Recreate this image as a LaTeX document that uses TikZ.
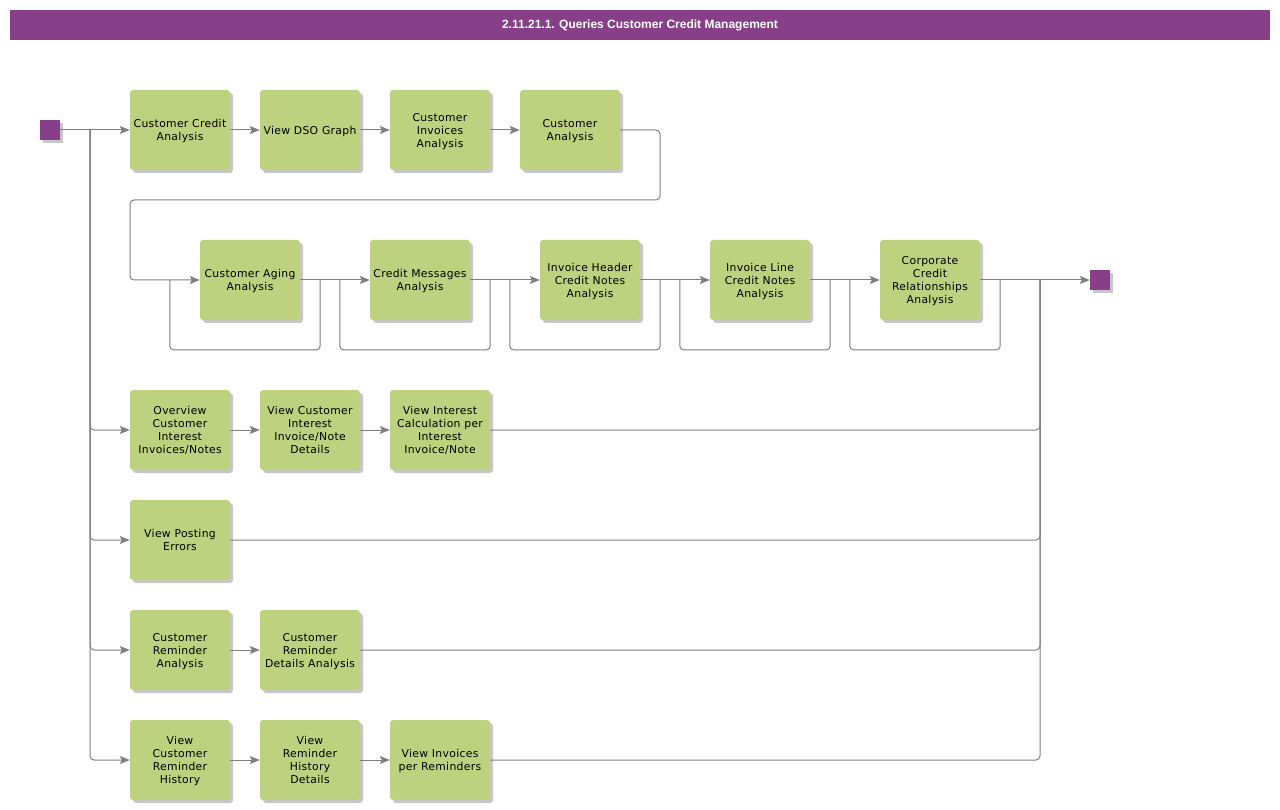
\documentclass[tikz,border=0pt]{standalone}
\usepackage{fontspec}
\setmainfont{DejaVu Sans}[LetterSpace=3]
\newfontfamily\headfont{Liberation Sans}
\usetikzlibrary{arrows.meta,shadows}
\definecolor{band}{HTML}{873F8A}
\definecolor{leaf}{HTML}{BDD27E}
\definecolor{wire}{HTML}{7F7F7F}
\tikzset{
  taskbox/.style={fill=leaf, rounded corners=3pt, minimum width=100pt, minimum height=80pt,
    inner sep=0pt, align=center, text depth=0pt, font=\fontsize{10.8}{13}\selectfont,
    drop shadow={shadow xshift=3pt, shadow yshift=-3pt, fill=black, opacity=0.22}},
  term/.style={fill=band, minimum size=20pt, inner sep=0pt,
    drop shadow={shadow xshift=3pt, shadow yshift=-3pt, fill=black, opacity=0.22}},
  flow/.style={draw=wire, line width=1pt, rounded corners=4pt, -{Stealth[length=10pt, width=8pt, inset=2pt]}},
  link/.style={draw=wire, line width=1pt, rounded corners=4pt},
}

\begin{document}
\begin{tikzpicture}[x=1pt, y=-1pt]
  \useasboundingbox (0,0) rectangle (1280,810);
  \node[fill=band, minimum width=1260pt, minimum height=30pt, inner sep=0pt,
    text=white, font=\headfont\bfseries\fontsize{12}{14}\selectfont] (bar) at (640,25)
    {2.11.21.1. Queries Customer Credit Management};

  % start and end
  \node[term] (start) at (50,130) {};
  \node[term] (stop) at (1100,280) {};
  \coordinate (split) at (90,130);
  \coordinate (merge) at (1040,280);
  \coordinate (wrapR) at (660,200);
  \coordinate (wrapL) at (130,200);

  % first row
  \node[taskbox] (cca) at (180,130) {Customer Credit\\Analysis};
  \node[taskbox] (dso) at (310,130) {View DSO Graph};
  \node[taskbox] (cia) at (440,130) {Customer\\Invoices\\Analysis};
  \node[taskbox] (cua) at (570,130) {Customer\\Analysis};

  % second row
  \node[taskbox] (aging) at (250,280) {Customer Aging\\Analysis};
  \node[taskbox] (crmsg) at (420,280) {Credit Messages\\Analysis};
  \node[taskbox] (ihdr) at (590,280) {Invoice Header\\Credit Notes\\Analysis};
  \node[taskbox] (iline) at (760,280) {Invoice Line\\Credit Notes\\Analysis};
  \node[taskbox] (corp) at (930,280) {Corporate\\Credit\\Relationships\\Analysis};

  % interest
  \node[taskbox] (ovw) at (180,430) {Overview\\Customer\\Interest\\Invoices/Notes};
  \node[taskbox] (vcid) at (310,430) {View Customer\\Interest\\Invoice/Note\\Details};
  \node[taskbox] (vicp) at (440,430) {View Interest\\Calculation per\\Interest\\Invoice/Note};

  % posting errors
  \node[taskbox] (vpe) at (180,540) {View Posting\\Errors};

  % reminders
  \node[taskbox] (cra) at (180,650) {Customer\\Reminder\\Analysis};
  \node[taskbox] (crda) at (310,650) {Customer\\Reminder\\Details Analysis};
  \node[taskbox] (vcrh) at (180,760) {View\\Customer\\Reminder\\History};
  \node[taskbox] (vrhd) at (310,760) {View\\Reminder\\History\\Details};
  \node[taskbox] (vipr) at (440,760) {View Invoices\\per Reminders};

  % connectors
  \draw[flow] (start) -- (cca);
  \draw[flow] (cca) -- (dso);
  \draw[flow] (dso) -- (cia);
  \draw[flow] (cia) -- (cua);
  \draw[flow] (cua.east) -| (wrapR) -- (wrapL) |- (aging.west);
  \draw[flow] (aging) -- (crmsg);
  \draw[flow] (crmsg) -- (ihdr);
  \draw[flow] (ihdr) -- (iline);
  \draw[flow] (iline) -- (corp);
  \draw[flow] (corp) -- (stop);

  \draw[link] ([xshift=-30pt]aging.west) |- ([xshift=20pt, yshift=-70pt]aging.east) -- ([xshift=20pt]aging.east);
  \draw[link] ([xshift=-30pt]crmsg.west) |- ([xshift=20pt, yshift=-70pt]crmsg.east) -- ([xshift=20pt]crmsg.east);
  \draw[link] ([xshift=-30pt]ihdr.west) |- ([xshift=20pt, yshift=-70pt]ihdr.east) -- ([xshift=20pt]ihdr.east);
  \draw[link] ([xshift=-30pt]iline.west) |- ([xshift=20pt, yshift=-70pt]iline.east) -- ([xshift=20pt]iline.east);
  \draw[link] ([xshift=-30pt]corp.west) |- ([xshift=20pt, yshift=-70pt]corp.east) -- ([xshift=20pt]corp.east);

  \draw[flow] (split) |- (ovw.west);
  \draw[flow] (ovw) -- (vcid);
  \draw[flow] (vcid) -- (vicp);
  \draw[link] (vicp.east) -| (merge);

  \draw[flow] (split) |- (vpe.west);
  \draw[link] (vpe.east) -| (merge);

  \draw[flow] (split) |- (cra.west);
  \draw[flow] (cra) -- (crda);
  \draw[link] (crda.east) -| (merge);

  \draw[flow] (split) |- (vcrh.west);
  \draw[flow] (vcrh) -- (vrhd);
  \draw[flow] (vrhd) -- (vipr);
  \draw[link] (vipr.east) -| (merge);
\end{tikzpicture}
\end{document}
